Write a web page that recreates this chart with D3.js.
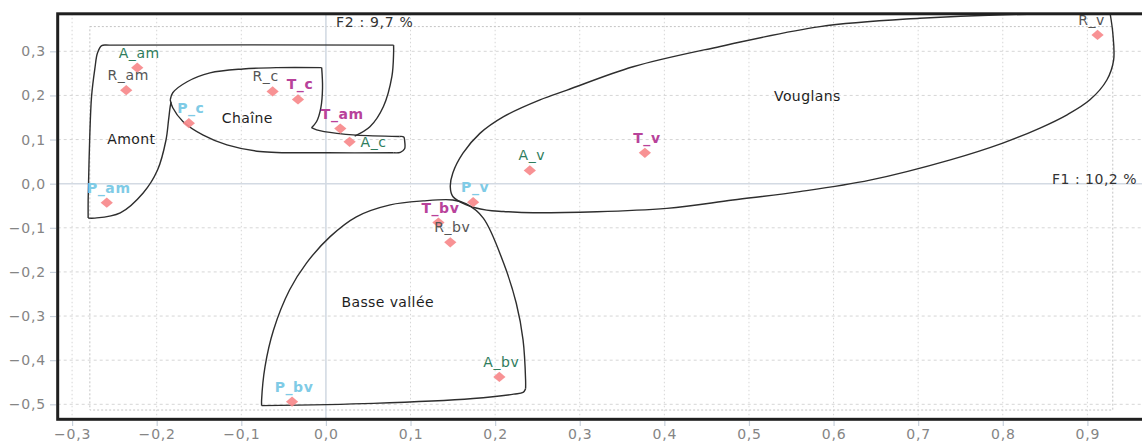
<!DOCTYPE html>
<html>
<head>
<meta charset="utf-8">
<script src="https://cdn.jsdelivr.net/npm/d3@7"></script>
<style>
  html, body { margin: 0; padding: 0; background: #fff; }
  svg { display: block; font-family: "DejaVu Sans", sans-serif; }
</style>
</head>
<body>
<svg id="chart" width="1142" height="441"></svg>
<script>
// Site scores on the first two factorial axes
const siteNames = ["A_am", "R_am", "P_c", "R_c", "T_c", "T_am", "A_c", "P_am",
                   "P_v", "A_v", "T_v", "R_v", "T_bv", "R_bv", "A_bv", "P_bv"];
const f1Scores  = [-0.223, -0.236, -0.162, -0.063, -0.033, 0.017, 0.028, -0.259,
                   0.174, 0.241, 0.377, 0.912, 0.133, 0.147, 0.205, -0.040];
const f2Scores  = [0.263, 0.212, 0.137, 0.209, 0.191, 0.125, 0.095, -0.043,
                   -0.042, 0.030, 0.070, 0.337, -0.088, -0.133, -0.438, -0.494];

// Tick values
const xTickValues = [-0.3, -0.2, -0.1, 0.0, 0.1, 0.2, 0.3, 0.4, 0.5, 0.6, 0.7, 0.8, 0.9];
const yTickValues = [-0.5, -0.4, -0.3, -0.2, -0.1, 0.0, 0.1, 0.2, 0.3];

// Axis titles
const axisTitleF1 = "F1 : 10,2 %";
const axisTitleF2 = "F2 : 9,7 %";

// Group names and where they sit (F1, F2)
const groupNames  = ["Amont", "Chaîne", "Basse vallée", "Vouglans"];
const groupLabelF1 = [-0.230, -0.093, 0.073, 0.569];
const groupLabelF2 = [0.101, 0.149, -0.268, 0.198];

// Extent of the scores (dotted frame)
const scoreExtentF1 = [-0.279, 0.930];
const scoreExtentF2 = [-0.513, 0.356];

// Group outlines, in (F1, F2) units, drawn as pieces that meet at corners
const amontOutline = [
  [[-0.183, 0.185], [-0.184, 0.175], [-0.186, 0.144], [-0.189, 0.099], [-0.199, 0.031],
   [-0.216, -0.021], [-0.243, -0.066], [-0.273, -0.078], [-0.281, -0.078]],
  [[-0.281, -0.078], [-0.281, -0.037], [-0.280, 0.047], [-0.277, 0.197], [-0.273, 0.262],
   [-0.270, 0.296], [-0.265, 0.313], [-0.255, 0.314], [0.080, 0.314]],
  [[0.080, 0.314], [0.080, 0.296], [0.078, 0.243], [0.068, 0.175], [0.052, 0.129], [0.034, 0.108]]
];
const chaineOutline = [
  [[-0.184, 0.190], [-0.181, 0.206], [-0.164, 0.231], [-0.137, 0.251], [-0.098, 0.260],
   [-0.058, 0.263], [-0.005, 0.263]],
  [[-0.005, 0.263], [-0.004, 0.217], [-0.006, 0.172], [-0.011, 0.141], [-0.017, 0.127]],
  [[-0.017, 0.127], [-0.011, 0.122], [0.013, 0.114], [0.036, 0.110], [0.087, 0.107]],
  [[0.087, 0.107], [0.092, 0.106], [0.093, 0.098], [0.093, 0.079], [0.088, 0.071], [0.080, 0.070]],
  [[0.080, 0.070], [0.001, 0.070], [-0.078, 0.073], [-0.117, 0.088], [-0.145, 0.110],
   [-0.169, 0.141], [-0.181, 0.172], [-0.184, 0.190]]
];
const basseValleeOutline = [
  [[-0.076, -0.503], [-0.076, -0.490], [-0.072, -0.415], [-0.062, -0.332], [-0.043, -0.241],
   [-0.023, -0.180], [0.005, -0.120], [0.036, -0.075], [0.076, -0.048], [0.115, -0.039],
   [0.150, -0.037], [0.166, -0.046], [0.186, -0.078], [0.210, -0.180], [0.225, -0.271],
   [0.233, -0.354], [0.236, -0.445], [0.236, -0.465]],
  [[0.236, -0.465], [0.233, -0.473], [0.222, -0.477], [0.174, -0.487], [0.056, -0.498], [-0.076, -0.503]]
];
const vouglansOutline = [
  [[0.927, 0.384], [0.930, 0.342], [0.931, 0.280], [0.923, 0.235], [0.903, 0.190],
   [0.876, 0.156], [0.844, 0.126], [0.800, 0.092], [0.738, 0.054], [0.643, 0.008],
   [0.560, -0.018], [0.481, -0.037], [0.403, -0.056], [0.245, -0.066], [0.210, -0.063],
   [0.190, -0.060], [0.166, -0.048], [0.150, -0.029], [0.147, -0.007], [0.150, 0.024],
   [0.162, 0.069], [0.182, 0.114], [0.210, 0.152], [0.253, 0.190], [0.285, 0.212],
   [0.363, 0.265], [0.466, 0.311], [0.584, 0.356], [0.702, 0.375], [0.800, 0.383], [0.927, 0.384]]
];

// ---- layout ----
const width = 1142, height = 441;
const plot = { left: 57.7, right: 1150, top: 13.8, bottom: 419.3 };
const font = "DejaVu Sans";

const x = d3.scaleLinear().domain([-0.317, 0.974]).range([plot.left, plot.right]);
const y = d3.scaleLinear().domain([-0.534, 0.385]).range([plot.bottom, plot.top]);

const svg = d3.select("#chart");

const groupColour = { A: "#2f7d5d", R: "#555555", P: "#7fcbe6", T: "#b8429a" };
const groupWeight = { A: "normal", R: "normal", P: "bold", T: "bold" };

// label nudges in pixels (baseline offset from the marker)
const labelNudge = {
  default: { dx: 2, dy: -10, anchor: "middle" },
  R_c: { dx: -7, dy: -10, anchor: "middle" },
  A_c: { dx: 11, dy: 5, anchor: "start" },
  R_v: { dx: -6, dy: -10, anchor: "middle" }
};

// grid
const grid = svg.append("g");
grid.selectAll("line.h").data(yTickValues.filter(v => v !== 0)).join("line")
  .attr("x1", plot.left).attr("x2", plot.right)
  .attr("y1", d => y(d)).attr("y2", d => y(d))
  .attr("stroke", "#d6d6d6").attr("stroke-width", 1).attr("stroke-dasharray", "3,3");
grid.selectAll("line.v").data(xTickValues.filter(v => v !== 0)).join("line")
  .attr("y1", plot.top).attr("y2", plot.bottom)
  .attr("x1", d => x(d)).attr("x2", d => x(d))
  .attr("stroke", "#d6d6d6").attr("stroke-width", 1).attr("stroke-dasharray", "1.5,2.5");

// dotted frame around the scores
svg.append("rect")
  .attr("x", x(scoreExtentF1[0])).attr("y", y(scoreExtentF2[1]))
  .attr("width", x(scoreExtentF1[1]) - x(scoreExtentF1[0]))
  .attr("height", y(scoreExtentF2[0]) - y(scoreExtentF2[1]))
  .attr("fill", "none").attr("stroke", "#c4c4c4").attr("stroke-width", 1)
  .attr("stroke-dasharray", "2,2");

// zero lines
svg.append("line").attr("x1", plot.left).attr("x2", plot.right)
  .attr("y1", y(0)).attr("y2", y(0)).attr("stroke", "#d3dae3").attr("stroke-width", 1.6);
svg.append("line").attr("y1", plot.top).attr("y2", plot.bottom)
  .attr("x1", x(0)).attr("x2", x(0)).attr("stroke", "#d3dae3").attr("stroke-width", 1.6);

// group outlines
const outlineLine = d3.line()
  .x(d => x(d[0])).y(d => y(d[1]))
  .curve(d3.curveCatmullRom.alpha(0.5));
const outlines = [amontOutline, chaineOutline, basseValleeOutline, vouglansOutline];
const outlineG = svg.append("g");
outlines.forEach(pieces => {
  outlineG.selectAll(null).data(pieces).join("path")
    .attr("d", outlineLine)
    .attr("fill", "none").attr("stroke", "#2e2e2e").attr("stroke-width", 1.4)
    .attr("stroke-linejoin", "round");
});

// group names
svg.append("g").selectAll("text").data(groupNames).join("text")
  .attr("x", (d, i) => x(groupLabelF1[i]))
  .attr("y", (d, i) => y(groupLabelF2[i]))
  .attr("dy", "0.35em")
  .attr("text-anchor", "middle")
  .attr("font-size", 14).attr("letter-spacing", 0.4)
  .attr("fill", "#1e1e1e")
  .text(d => d);

// site markers
const sites = siteNames.map((n, i) => ({ name: n, f1: f1Scores[i], f2: f2Scores[i], g: n[0] }));
const diamond = d3.symbol().type(d3.symbolSquare).size(62);
svg.append("g").selectAll("path").data(sites).join("path")
  .attr("d", diamond)
  .attr("transform", d => `translate(${x(d.f1)},${y(d.f2)}) scale(1.1,0.92) rotate(45)`)
  .attr("fill", "#f7898b").attr("fill-opacity", 0.92);

// site labels
svg.append("g").selectAll("text").data(sites).join("text")
  .each(function (d) {
    const nd = labelNudge[d.name] || labelNudge.default;
    d3.select(this)
      .attr("x", x(d.f1) + nd.dx)
      .attr("y", y(d.f2) + nd.dy)
      .attr("text-anchor", nd.anchor);
  })
  .attr("font-size", 14).attr("letter-spacing", 0.6)
  .attr("font-weight", d => groupWeight[d.g])
  .attr("fill", d => groupColour[d.g])
  .text(d => d.name);

// axes
const fmt = d3.formatLocale({
  decimal: ",", thousands: "\u00a0", grouping: [3], currency: ["", ""], minus: "\u2212"
}).format(".1f");

const xAxis = svg.append("g")
  .attr("transform", `translate(0,${plot.bottom + 1.7})`)
  .call(d3.axisBottom(x).tickValues(xTickValues).tickFormat(fmt).tickSize(5).tickPadding(3));
const yAxis = svg.append("g")
  .attr("transform", `translate(${plot.left - 1.7},0)`)
  .call(d3.axisLeft(y).tickValues(yTickValues).tickFormat(fmt).tickSize(6).tickPadding(4));
[xAxis, yAxis].forEach(a => {
  a.select(".domain").remove();
  a.selectAll(".tick line").attr("stroke", "#c7d0db").attr("stroke-width", 1.2);
  a.selectAll(".tick text")
    .attr("fill", "#858585").attr("font-family", font)
    .attr("font-size", 14).attr("letter-spacing", 0.8);
});

// plot frame
svg.append("rect")
  .attr("x", plot.left).attr("y", plot.top)
  .attr("width", plot.right - plot.left).attr("height", plot.bottom - plot.top)
  .attr("fill", "none").attr("stroke", "#1f1f1f").attr("stroke-width", 3);

// axis titles
svg.append("text")
  .attr("x", x(0) + 10).attr("y", plot.top + 13)
  .attr("font-size", 14).attr("letter-spacing", 0.7).attr("fill", "#333")
  .text(axisTitleF2);
svg.append("text")
  .attr("x", width - 5).attr("y", y(0) + 0.5)
  .attr("text-anchor", "end")
  .attr("font-size", 14).attr("letter-spacing", 0.5).attr("fill", "#333")
  .text(axisTitleF1);
</script>
</body>
</html>
